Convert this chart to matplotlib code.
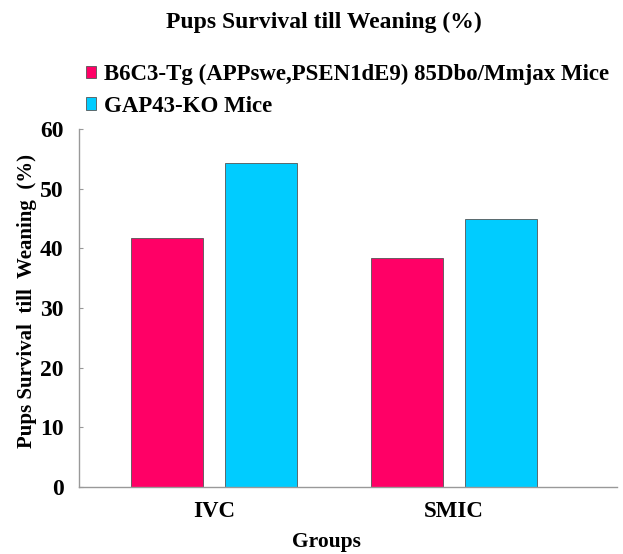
import matplotlib.pyplot as plt
import numpy as np

groups = ['IVC', 'SMIC']
series_names = ['B6C3-Tg (APPswe,PSEN1dE9) 85Dbo/Mmjax Mice', 'GAP43-KO Mice']
tg_values = [41.7, 38.4]
ko_values = [54.3, 44.9]
colors = ['#ff0066', '#00ccff']

plt.rcParams['font.family'] = ['Liberation Serif', 'DejaVu Serif']
plt.rcParams['font.weight'] = 'bold'

fig = plt.figure(figsize=(6.23, 5.54), dpi=100)
ax = fig.add_axes([0.1268, 0.1209, 0.8636, 0.6462])

x = np.arange(len(groups))
width = 0.30
ax.bar(x - 0.194, tg_values, width, color=colors[0], edgecolor='#555555',
       linewidth=0.6, label=series_names[0])
ax.bar(x + 0.194, ko_values, width, color=colors[1], edgecolor='#555555',
       linewidth=0.6, label=series_names[1])

ax.set_xlim(-0.5625, 1.679)
ax.set_ylim(0, 60)
ax.set_yticks(range(0, 61, 10))
ax.set_xticks(x)
ax.set_xticklabels(groups)

for side in ['top', 'right']:
    ax.spines[side].set_visible(False)
for side in ['left', 'bottom']:
    ax.spines[side].set_color('#999999')
    ax.spines[side].set_linewidth(1.0)

ax.tick_params(axis='y', direction='in', length=3, color='#999999',
               labelsize=17, pad=11)
ax.tick_params(axis='x', length=0, labelsize=16.5, pad=10)

ax.set_xlabel('Groups', fontsize=15.5, fontweight='bold')
ax.xaxis.set_label_coords((326 - 79) / 538, -0.126)
ax.set_ylabel('Pups Survival  till  Weaning  (%)', fontsize=15,
              fontweight='bold')
ax.yaxis.set_label_coords(-0.078, (554 - 301 - 67) / 358)

fig.text(0.52, 0.96, 'Pups Survival till Weaning (%)', ha='center',
         va='center', fontsize=17, fontweight='bold')

fig.legend(loc='upper left', bbox_to_anchor=(0.138, 0.884), frameon=False,
           fontsize=16.5, handlelength=0.45, handleheight=0.45, handletextpad=0.35,
           labelspacing=0.45, borderaxespad=0, borderpad=0)

plt.savefig('out.png', dpi=100)
plt.close()
